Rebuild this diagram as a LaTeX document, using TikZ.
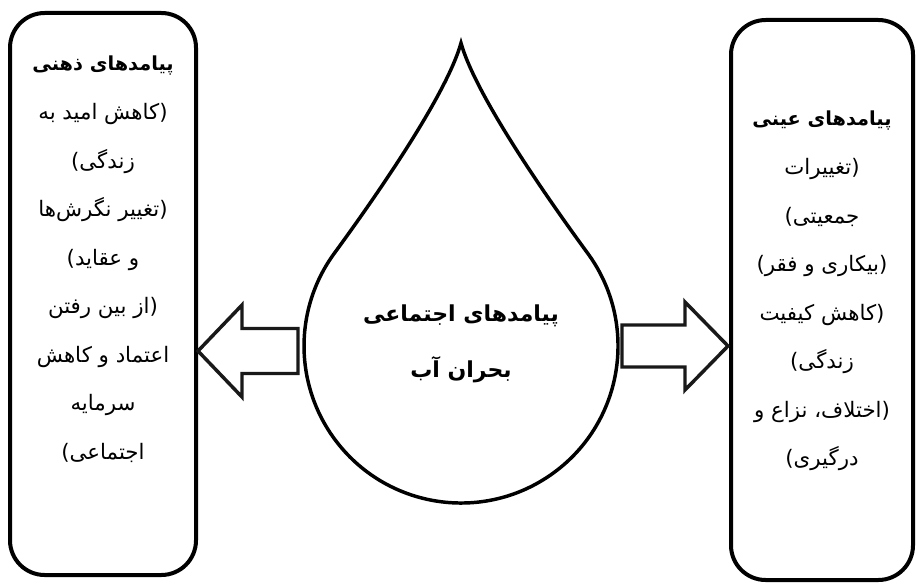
\documentclass[tikz,border=0pt]{standalone}
\usepackage{fontspec}
\newfontfamily\fa[Script=Arabic]{DejaVu Sans}
\TeXXeTstate=1
\tikzset{
  box/.style={draw=black, line width=3pt, rounded corners=26pt},
  blockarrow/.style={draw=black!90, line width=2.6pt, line join=miter, fill=white},
  drop/.style={draw=black, line width=2.6pt, fill=white},
  txt/.style={align=center, inner sep=0pt, anchor=north, font=\fa\fontsize{16}{36.4}\selectfont},
  ttl/.style={font=\fa\bfseries\fontsize{14.5}{36.4}\selectfont},
  ctxt/.style={align=center, inner sep=0pt, font=\fa\bfseries\fontsize{16.5}{42}\selectfont},
}
\begin{document}
\begin{tikzpicture}[x=0.75pt,y=0.75pt]
\useasboundingbox (0,0) rectangle (917,587);
% side boxes
\draw[box] (10,12) rectangle (196,574);
\draw[box] (731,7) rectangle (913,567);
% drop
\draw[drop] (461,544) .. controls (476,490) and (552.3,382.1) .. (587.7,333.7)
  arc[start angle=36.2, end angle=-216.2, radius=157]
  .. controls (369.7,382.1) and (446,490) .. (461,544) -- cycle;
% block arrows
\draw[blockarrow] (298,213.5) -- (298,258.5) -- (242,258.5) -- (242,282) -- (198,236)
  -- (242,190) -- (242,213.5) -- cycle;
\draw[blockarrow] (622,220) -- (622,262) -- (685,262) -- (685,285) -- (728,241)
  -- (685,197) -- (685,220) -- cycle;
% texts
\node[txt] (L) at (103,531) {%
{\fa\bfseries\fontsize{14.5}{36.4}\selectfont\beginR پیامدهای ذهنی\endR}\\
\beginR(کاهش امید به\endR\\
\beginR زندگی)\endR\\
\beginR(تغییر نگرش‌ها\endR\\
\beginR و عقاید)\endR\\
\beginR(از بین رفتن\endR\\
\beginR اعتماد و کاهش\endR\\
\beginR سرمایه\endR\\
\beginR اجتماعی)\endR};
\node[txt] (R) at (822,476) {%
{\fa\bfseries\fontsize{14.5}{36.4}\selectfont\beginR پیامدهای عینی\endR}\\
\beginR(تغییرات\endR\\
\beginR جمعیتی)\endR\\
\beginR(بیکاری و فقر)\endR\\
\beginR(کاهش کیفیت\endR\\
\beginR زندگی)\endR\\
\beginR(اختلاف، نزاع و\endR\\
\beginR درگیری)\endR};
\node[ctxt] (C) at (461,243) {\beginR پیامدهای اجتماعی\endR\\ \beginR بحران آب\endR};
\end{tikzpicture}
\end{document}
